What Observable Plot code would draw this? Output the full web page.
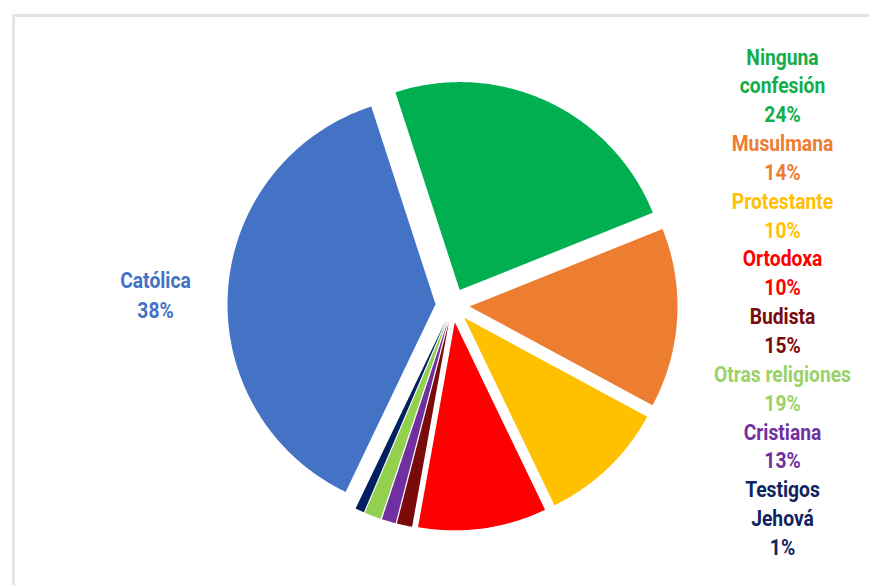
<!DOCTYPE html>
<html>
<head>
<meta charset="utf-8">
<script src="https://cdn.jsdelivr.net/npm/d3@7"></script>
<script src="https://cdn.jsdelivr.net/npm/@observablehq/plot@0.6"></script>
<style>
  html, body { margin: 0; padding: 0; background: #fff; }
  #wrap { position: relative; width: 869px; height: 585px; overflow: hidden; }
  #border { position: absolute; left: 12px; top: 14px; right: -10px; bottom: -10px;
            border-top: 3px solid #e4e4e4; border-left: 3px solid #e4e4e4; }
  #chart { position: absolute; left: 0; top: 0; }
</style>
</head>
<body>
<div id="wrap"><div id="border"></div><div id="chart"></div></div>
<script>
// Slices in clockwise order, starting at the green slice
const categories = ["Ninguna confesión", "Musulmana", "Protestante", "Ortodoxa", "Budista", "Cristiana", "Otras religiones", "Testigos Jehová", "Católica"];
const shares = [24, 14, 10, 10, 1.2, 1.1, 1.3, 0.7, 38];
const sliceColors = ["#00B050", "#ED7D31", "#FFC000", "#FF0000", "#7B0A0A", "#7030A0", "#92D050", "#002060", "#4472C4"];

// Legend column (right side), in its own order
const legendNames = ["Ninguna confesión", "Musulmana", "Protestante", "Ortodoxa", "Budista", "Otras religiones", "Cristiana", "Testigos Jehová"];
const legendLines = [["Ninguna", "confesión", "24%"], ["Musulmana", "14%"], ["Protestante", "10%"], ["Ortodoxa", "10%"], ["Budista", "15%"], ["Otras religiones", "19%"], ["Cristiana", "13%"], ["Testigos", "Jehová", "1%"]];
const legendColors = ["#13AD4B", "#ED7D31", "#FFC000", "#FF0000", "#7B0A0A", "#9BD169", "#7030A0", "#0F2461"];

// Label next to the pie
const sideLabel = ["Católica", "38%"];
const sideColor = "#4472C4";

// layout (pixels)
const W = 869, H = 585;
const cx = 452, cy = 305, R = 208;
const explode = 17 / R;
const toUx = px => (px - cx) / R;
const toUy = py => (cy - py) / R;

const deg = Math.PI / 180;
const arcs = d3.pie().sort(null).value((d, i) => shares[i])
  .startAngle(-18 * deg).endAngle(342 * deg)(categories);

const pts = [];
arcs.forEach((a, i) => {
  const mid = (a.startAngle + a.endAngle) / 2;
  const ox = explode * Math.sin(mid), oy = explode * Math.cos(mid);
  const name = categories[i];
  pts.push({name, x: ox, y: oy});
  const n = Math.max(2, Math.ceil((a.endAngle - a.startAngle) / (0.5 * deg)));
  for (let k = 0; k <= n; k++) {
    const t = a.startAngle + (a.endAngle - a.startAngle) * k / n;
    pts.push({name, x: ox + Math.sin(t), y: oy + Math.cos(t)});
  }
});

const legendRows = [];
let line = 0;
legendNames.forEach((nm, i) => {
  legendLines[i].forEach(txt => {
    legendRows.push({text: txt, color: legendColors[i], x: toUx(782), y: toUy(57 + 28.85 * line)});
    line++;
  });
});
const sideRows = sideLabel.map((t, i) => ({text: t, color: sideColor, x: toUx(155), y: toUy(280 + 30 * i)}));

const font = "Roboto, 'Noto Sans', sans-serif";

const chart = Plot.plot({
  width: W, height: H,
  margin: 0,
  style: {background: "transparent", fontFamily: font},
  x: {domain: [-1, 1], range: [cx - R, cx + R], axis: null},
  y: {domain: [-1, 1], range: [cy + R, cy - R], axis: null},
  color: {domain: categories, range: sliceColors},
  marks: [
    Plot.line(pts, {x: "x", y: "y", z: "name", fill: "name", stroke: "none", curve: "linear-closed"}),
    Plot.text(legendRows, {x: "x", y: "y", text: "text", fill: d => d.color, fontSize: 22, fontWeight: "bold", textAnchor: "middle", lineAnchor: "middle"}),
    Plot.text(sideRows, {x: "x", y: "y", text: "text", fill: d => d.color, fontSize: 22, fontWeight: "bold", textAnchor: "middle", lineAnchor: "middle"})
  ]
});
document.getElementById("chart").appendChild(chart);

// Condense the bold labels horizontally (reference uses a condensed face)
const texts = Array.from(chart.querySelectorAll("text"));
let ref = texts.find(t => t.textContent === "Otras religiones");
const k = ref ? 137 / ref.getComputedTextLength() : 0.8;
texts.forEach(t => {
  const w = t.getComputedTextLength();
  t.setAttribute("textLength", (w * k).toFixed(1));
  t.setAttribute("lengthAdjust", "spacingAndGlyphs");
});
</script>
</body>
</html>
